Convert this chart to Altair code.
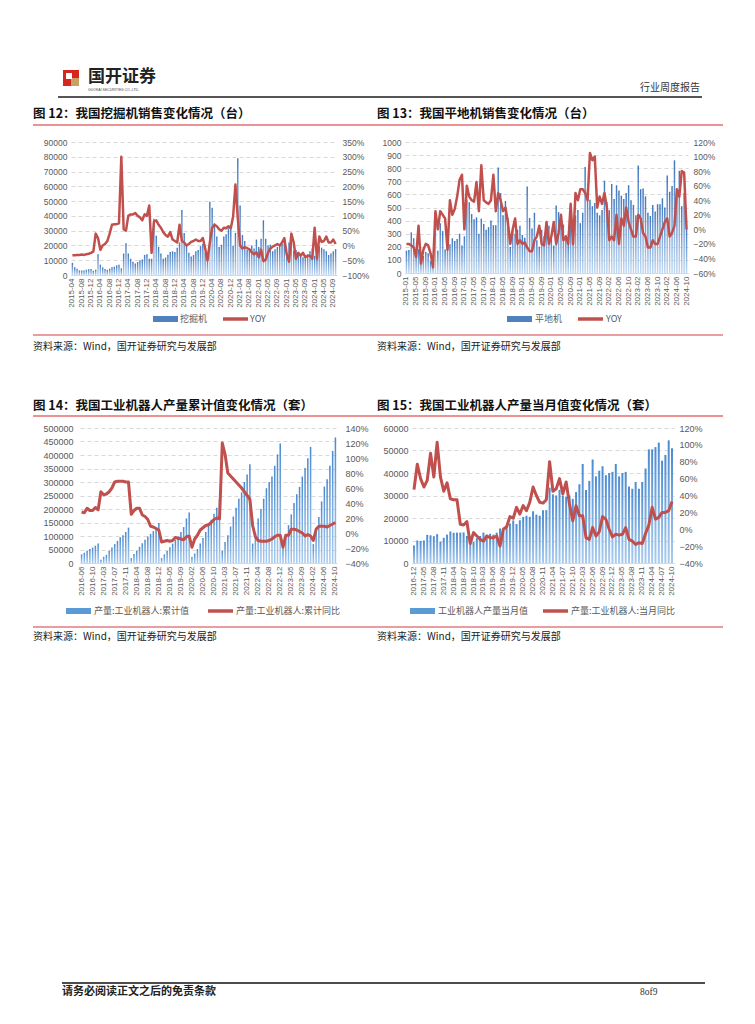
import pandas as pd
import altair as alt

# ---------------- categories / tick labels ----------------
def month_list(start, end, drop=(), skip=()):
    out = []
    for p in pd.period_range(start, end, freq="M"):
        s = p.strftime("%Y-%m")
        if s in drop or p.month in skip:
            continue
        out.append(s)
    return out

cats12 = month_list("2015-04", "2024-10", drop={"2021-11"})
cats13 = month_list("2015-01", "2024-10", drop={"2021-11"})
cats14 = month_list("2016-06", "2024-10", skip={1})
cats15 = month_list("2016-12", "2024-10", skip={1, 2})

ticks12 = ["2015-04", "2015-08", "2015-12", "2016-04", "2016-08", "2016-12", "2017-04", "2017-08",
           "2017-12", "2018-04", "2018-08", "2018-12", "2019-04", "2019-08", "2019-12", "2020-04",
           "2020-08", "2020-12", "2021-04", "2021-08", "2022-01", "2022-05", "2022-09", "2023-01",
           "2023-05", "2023-09", "2024-01", "2024-05", "2024-09"]
ticks13 = ["2015-01", "2015-05", "2015-09", "2016-01", "2016-05", "2016-09", "2017-01", "2017-05",
           "2017-09", "2018-01", "2018-05", "2018-09", "2019-01", "2019-05", "2019-09", "2020-01",
           "2020-05", "2020-09", "2021-01", "2021-05", "2021-09", "2022-02", "2022-06", "2022-10",
           "2023-02", "2023-06", "2023-10", "2024-02", "2024-06", "2024-10"]
ticks14 = ["2016-06", "2016-10", "2017-03", "2017-07", "2017-11", "2018-04", "2018-08", "2018-12",
           "2019-05", "2019-09", "2020-02", "2020-06", "2020-10", "2021-03", "2021-07", "2021-11",
           "2022-04", "2022-08", "2022-12", "2023-05", "2023-09", "2024-02", "2024-06", "2024-10"]
ticks15 = ["2016-12", "2017-05", "2017-08", "2017-11", "2018-04", "2018-07", "2018-10", "2019-03",
           "2019-06", "2019-09", "2019-12", "2020-05", "2020-08", "2020-11", "2021-04", "2021-07",
           "2021-10", "2022-03", "2022-06", "2022-09", "2022-12", "2023-05", "2023-08", "2023-11",
           "2024-04", "2024-07", "2024-10"]

# ---------------- 图12 挖掘机 (台) ----------------
exc_2015 = [8200, 5300, 4300, 3100, 3000, 3000, 3600, 3900, 4000]
exc_2016 = [2900, 3600, 14000, 7000, 5200, 4000, 3500, 4300, 5200, 5600, 6500, 7000]
exc_2017 = [4500, 14500, 21500, 14500, 11000, 9000, 7700, 8800, 10000, 10500, 13600, 14000]
exc_2018 = [11000, 11000, 38000, 26500, 19000, 14500, 11000, 11800, 13700, 15600, 16000, 15500]
exc_2019 = [18500, 22000, 44000, 28500, 21000, 15000, 12500, 13500, 16000, 17000, 19500, 21000]
exc_2020 = [15000, 10500, 49500, 45500, 35000, 26000, 19000, 20500, 26000, 27500, 31500, 31000]
exc_2021 = [19600, 28500, 79000, 47000, 27000, 23000, 17000, 17000, 20000, 18000, 24000]
exc_2022 = [19000, 24500, 37000, 24500, 20000, 20500, 16000, 17500, 19000, 20000, 21000, 22500]
exc_2023 = [15000, 22000, 23500, 16500, 17000, 15000, 12500, 12000, 13500, 14000, 16000, 18000]
exc_2024 = [13000, 11000, 19500, 18500, 17500, 16000, 13500, 14500, 16000, 17500]
exc_units = exc_2015 + exc_2016 + exc_2017 + exc_2018 + exc_2019 + exc_2020 + exc_2021 + exc_2022 + exc_2023 + exc_2024

exy_2015 = [-0.33, -0.33, -0.32, -0.32, -0.31, -0.32, -0.30, -0.28, -0.25]
exy_2016 = [-0.20, 0.40, 0.25, -0.15, 0.00, 0.05, 0.15, 0.40, 0.70, 0.72, 0.72, 0.75]
exy_2017 = [3.00, 0.55, 0.50, 1.00, 1.05, 1.05, 1.10, 1.00, 0.95, 0.85, 1.05, 1.00]
exy_2018 = [1.35, -0.25, 0.80, 0.85, 0.70, 0.60, 0.45, 0.35, 0.30, 0.45, 0.20, 0.15]
exy_2019 = [0.10, 0.70, 0.15, 0.10, 0.00, 0.05, 0.12, 0.15, 0.20, 0.15, 0.15, 0.25]
exy_2020 = [-0.10, -0.50, 0.10, 0.60, 0.70, 0.65, 0.55, 0.50, 0.60, 0.58, 0.65, 0.58]
exy_2021 = [0.98, 2.06, 0.93, 0.00, -0.10, -0.06, -0.09, -0.13, -0.23, -0.30, -0.23]
exy_2022 = [-0.40, -0.14, -0.53, -0.48, -0.24, -0.10, -0.04, 0.00, 0.05, 0.00, 0.10, 0.25]
exy_2023 = [-0.30, -0.55, 0.40, 0.10, -0.45, -0.25, -0.35, -0.25, -0.40, -0.35, -0.35, -0.45]
exy_2024 = [0.60, -0.45, 0.30, 0.12, 0.15, 0.30, 0.10, 0.10, 0.20, 0.05]
exc_yoy = exy_2015 + exy_2016 + exy_2017 + exy_2018 + exy_2019 + exy_2020 + exy_2021 + exy_2022 + exy_2023 + exy_2024

# ---------------- 图13 平地机 (台) ----------------
gr_2015 = [170, 175, 310, 265, 140, 180, 90, 130, 160, 150, 90, 60]
gr_2016 = [460, 170, 380, 320, 180, 240, 220, 265, 245, 260, 300, 210]
gr_2017 = [280, 560, 540, 450, 410, 425, 300, 415, 375, 330, 350, 400]
gr_2018 = [365, 365, 805, 610, 440, 550, 420, 200, 340, 300, 330, 360]
gr_2019 = [290, 270, 660, 420, 340, 460, 250, 200, 330, 280, 390, 360]
gr_2020 = [270, 210, 515, 465, 420, 370, 290, 230, 380, 310, 440, 480]
gr_2021 = [380, 460, 810, 640, 560, 510, 535, 460, 440, 480, 705]
gr_2022 = [540, 480, 680, 565, 670, 630, 590, 565, 610, 670, 555, 520]
gr_2023 = [440, 820, 640, 645, 585, 460, 435, 520, 470, 525, 525, 570]
gr_2024 = [500, 745, 620, 665, 860, 610, 780, 510, 610, 340]
grader_units = gr_2015 + gr_2016 + gr_2017 + gr_2018 + gr_2019 + gr_2020 + gr_2021 + gr_2022 + gr_2023 + gr_2024

gy_2015 = [-20, -20, -22, -25, -38, 5, -47, -28, -20, -22, -33, -52]
gy_2016 = [25, 0, 25, 20, 15, -28, 40, 20, 28, 45, 68, 75]
gy_2017 = [0, 60, 45, 40, 38, 65, 25, 88, 40, 37, 35, 40]
gy_2018 = [75, 25, 50, 40, 25, 30, 10, -20, 0, 15, -20, -15]
gy_2019 = [-20, -18, -25, -30, -30, -15, -10, 5, -20, -22, 10, -20]
gy_2020 = [-10, 10, -20, -5, 20, -15, -10, -20, 35, -20, 50, 40]
gy_2021 = [55, 55, 50, 40, 105, 95, 100, 30, 45, 35, 50]
gy_2022 = [30, -15, -10, -15, 20, -20, 15, 5, 30, 10, 0, -10]
gy_2023 = [-10, 20, 15, -5, -10, -25, -25, -15, -20, -20, -10, 0]
gy_2024 = [10, 15, -10, -5, 5, 55, 45, 80, 78, 0]
grader_yoy_pct = gy_2015 + gy_2016 + gy_2017 + gy_2018 + gy_2019 + gy_2020 + gy_2021 + gy_2022 + gy_2023 + gy_2024

# ---------------- 图14 工业机器人 累计值 (千套) ----------------
rc_2016 = [32, 38, 45, 52, 57, 64, 72]
rc_2017 = [12, 23, 30, 45, 57, 70, 82, 95, 103, 115, 131]
rc_2018 = [18, 33, 45, 60, 73, 86, 98, 108, 118, 130, 148]
rc_2019 = [18, 32, 44, 58, 72, 85, 98, 115, 133, 165, 187]
rc_2020 = [22, 35, 52, 72, 93, 115, 138, 160, 182, 205, 237]
rc_2021 = [45, 78, 103, 135, 172, 205, 238, 262, 300, 328, 366]
rc_2022 = [72, 110, 165, 200, 238, 277, 300, 320, 360, 402, 443]
rc_2023 = [65, 105, 140, 180, 222, 255, 282, 320, 352, 388, 430]
rc_2024 = [70, 120, 170, 228, 283, 310, 360, 415, 465]
robot_cum_k = rc_2016 + rc_2017 + rc_2018 + rc_2019 + rc_2020 + rc_2021 + rc_2022 + rc_2023 + rc_2024

ry_2016 = [0.28, 0.27, 0.33, 0.30, 0.30, 0.34, 0.31]
ry_2017 = [0.55, 0.51, 0.52, 0.55, 0.60, 0.68, 0.69, 0.69, 0.69, 0.68, 0.68]
ry_2018 = [0.25, 0.30, 0.33, 0.33, 0.24, 0.22, 0.18, 0.09, 0.08, 0.06, 0.04]
ry_2019 = [-0.12, -0.11, -0.10, -0.11, -0.10, -0.06, -0.07, -0.08, -0.09, -0.05, -0.04]
ry_2020 = [-0.19, -0.08, -0.03, 0.04, 0.07, 0.10, 0.11, 0.14, 0.18, 0.20, 0.19]
ry_2021 = [1.20, 1.05, 0.80, 0.76, 0.72, 0.68, 0.64, 0.60, 0.55, 0.50, 0.45]
ry_2022 = [0.10, -0.05, -0.10, -0.11, -0.11, -0.11, -0.10, -0.08, -0.05, -0.03, -0.03]
ry_2023 = [-0.19, -0.03, -0.03, 0.05, 0.05, 0.04, 0.02, 0.00, -0.04, -0.02, -0.04]
ry_2024 = [-0.10, 0.05, 0.09, 0.09, 0.09, 0.08, 0.10, 0.12, 0.14]
robot_cum_yoy = ry_2016 + ry_2017 + ry_2018 + ry_2019 + ry_2020 + ry_2021 + ry_2022 + ry_2023 + ry_2024

# ---------------- 图15 工业机器人 当月值 (千套) ----------------
rm_2016 = [7.8]
rm_2017 = [10.0, 9.8, 10.0, 12.5, 12.3, 11.9, 12.8, 9.5, 11.2, 12.6]
rm_2018 = [14.0, 13.4, 13.5, 13.5, 13.6, 12.0, 11.0, 9.5, 11.0, 12.0]
rm_2019 = [13.5, 12.6, 13.0, 12.6, 13.5, 15.3, 14.5, 16.0, 17.5, 18.9]
rm_2020 = [17.3, 19.0, 20.5, 21.0, 20.5, 23.0, 21.5, 21.0, 23.5, 23.5]
rm_2021 = [33.5, 30.5, 30.0, 32.5, 30.0, 29.5, 30.0, 28.5, 31.5, 35.0]
rm_2022 = [44.0, 32.5, 36.5, 46.0, 38.5, 41.0, 43.0, 39.0, 40.0, 40.5]
rm_2023 = [44.0, 38.5, 40.0, 40.5, 34.0, 33.0, 36.0, 33.0, 36.0, 42.0]
rm_2024 = [50.5, 50.5, 51.5, 53.5, 45.5, 48.0, 54.5, 51.0]
robot_month_k = rm_2016 + rm_2017 + rm_2018 + rm_2019 + rm_2020 + rm_2021 + rm_2022 + rm_2023 + rm_2024

rmy_2016 = [0.47]
rmy_2017 = [0.77, 0.60, 0.50, 0.58, 0.90, 0.62, 1.03, 0.62, 0.45, 0.55]
rmy_2018 = [0.36, 0.35, 0.35, 0.06, 0.05, 0.09, -0.17, -0.04, -0.08, -0.12]
rmy_2019 = [-0.14, -0.08, -0.10, -0.10, -0.08, -0.20, 0.00, 0.03, 0.15, 0.13]
rmy_2020 = [0.26, 0.18, 0.28, 0.22, 0.32, 0.50, 0.40, 0.32, 0.31, 0.35]
rmy_2021 = [0.80, 0.45, 0.48, 0.60, 0.42, 0.56, 0.30, 0.10, 0.28, 0.16]
rmy_2022 = [0.16, -0.10, -0.12, 0.02, -0.08, -0.03, 0.15, 0.12, 0.00, -0.09]
rmy_2023 = [-0.06, -0.07, -0.06, 0.02, -0.12, -0.14, -0.18, -0.16, -0.17, -0.05]
rmy_2024 = [0.05, 0.26, 0.12, 0.14, 0.20, 0.20, 0.22, 0.33]
robot_month_yoy = rmy_2016 + rmy_2017 + rmy_2018 + rmy_2019 + rmy_2020 + rmy_2021 + rmy_2022 + rmy_2023 + rmy_2024

# ---------------- styling ----------------
NUM_FONT = "Liberation Sans"
CJK = "Noto Sans CJK SC"
RED = "#c0504d"
GRAY = "#595959"


def grad(c1, c2):
    return alt.Gradient(gradient="linear",
                        stops=[alt.GradientStop(color=c1, offset=0), alt.GradientStop(color=c2, offset=1)],
                        x1=0, x2=0, y1=0, y2=1)


def panel(cats, bars, yoy, ticks, w, h, ydom, ystep, rdom, rstep, bar_fill, pad_inner, line_w, lsize,
          xrange=None, left_off=0, right_off=0, right_pad=5):
    n = min(len(cats), len(bars), len(yoy))
    df = pd.DataFrame({"m": cats[:n], "v": bars[:n], "r": yoy[:n]})
    sc = dict(paddingInner=pad_inner, paddingOuter=0.3)
    if xrange is not None:
        sc["range"] = xrange
    x = alt.X("m:O", sort=cats[:n], scale=alt.Scale(**sc),
              axis=alt.Axis(values=ticks, labelAngle=-90, labelFontSize=8, labelColor=GRAY,
                            labelFont=NUM_FONT, ticks=False, domainColor="#d9d9d9", labelPadding=3,
                            title=None, labelOverlap=False))
    lvals = list(range(ydom[0], ydom[1] + 1, ystep))
    nr = int(round((rdom[1] - rdom[0]) / rstep))
    rvals = [round(rdom[0] + i * rstep, 4) for i in range(nr + 1)]
    b = alt.Chart(df).mark_bar(color=bar_fill).encode(
        x=x,
        y=alt.Y("v:Q", scale=alt.Scale(domain=ydom, nice=False),
                axis=alt.Axis(values=lvals, format="d", title=None, grid=True, gridColor="#d9d9d9",
                              gridDash=[4, 3], domain=False, ticks=False, labelFontSize=lsize,
                              labelColor=GRAY, labelFont=NUM_FONT, labelPadding=4, offset=left_off)))
    ln = alt.Chart(df).mark_line(color=RED, strokeWidth=line_w, strokeJoin="round").encode(
        x=x,
        y=alt.Y("r:Q", scale=alt.Scale(domain=rdom, nice=False),
                axis=alt.Axis(orient="right", values=rvals, format=".0%", title=None, grid=False,
                              domain=False, ticks=False, labelFontSize=lsize, labelColor=GRAY,
                              labelFont=NUM_FONT, labelPadding=right_pad, offset=right_off)))
    return alt.layer(b, ln).resolve_scale(y="independent").properties(width=w, height=h)


dummy = pd.DataFrame({"d": [0]})

# page decorations are positioned relative to the first row's origin (page x 8, y 142)
OX, OY = 8, 142


def T(px, py, text, size=10, weight="normal", color="#222", align="left", font=CJK):
    return alt.Chart(dummy).mark_text(text=text, fontSize=size, fontWeight=weight, color=color,
                                      align=align, baseline="middle", font=font).encode(
        x=alt.value(px - OX), y=alt.value(py - OY))


def R(px1, px2, py, color, width):
    return alt.Chart(dummy).mark_rule(color=color, strokeWidth=width).encode(
        x=alt.value(px1 - OX), x2=alt.value(px2 - OX), y=alt.value(py - OY))


def B(px1, px2, py1, py2, color):
    return alt.Chart(dummy).mark_rect(color=color).encode(
        x=alt.value(px1 - OX), x2=alt.value(px2 - OX), y=alt.value(py1 - OY), y2=alt.value(py2 - OY))


def legend(py, items, color):
    out = []
    for (bx, tx1, rx, tx2, t1, t2) in items:
        out.append(B(bx, bx + 25, py - 3, py + 3, color))
        out.append(T(tx1, py, t1, size=9, color=GRAY))
        out.append(R(rx, rx + 25, py, RED, 3.5))
        out.append(T(tx2, py, t2, size=9, color=GRAY))
    return out


SRC = "资料来源：Wind，国开证券研究与发展部"
TITLE_RED = "#d9262b"
SRC_RED = "#e27d80"

decor = [
    B(8, 9, 8, 9, "#ffffff"),  # page top-left anchor
    # header
    B(63, 79, 70, 86, "#d7261e"),
    B(71, 79, 78, 86, "#c9a063"),
    B(66, 72, 73, 79, "#ffffff"),
    T(88, 77, "国开证券", size=17, weight="bold", color="#222"),
    T(88, 90, "GUOKAI SECURITIES CO.,LTD.", size=3.5, color="#444", font=NUM_FONT),
    T(700, 88, "行业周度报告", size=10, color="#333", align="right"),
    R(58, 702, 97, "#555555", 2),
    # row 1 titles
    T(33, 114, "图 12：我国挖掘机销售变化情况（台）", size=12.5, weight="bold", color="#111"),
    T(377, 114, "图 13：我国平地机销售变化情况（台）", size=12.5, weight="bold", color="#111"),
    R(33, 723, 125, TITLE_RED, 1.2),
    # row 1 legends and source
    *legend(319, [(153, 180, 223, 250, "挖掘机", "YOY"),
                  (507, 535, 578, 606, "平地机", "YOY")], "#4f81bd"),
    R(33, 723, 335, SRC_RED, 1.5),
    T(33, 347, SRC, size=10, color="#222"),
    T(377, 347, SRC, size=10, color="#222"),
    # row 2 titles
    T(33, 406, "图 14：我国工业机器人产量累计值变化情况（套）", size=12.5, weight="bold", color="#111"),
    T(377, 406, "图 15：我国工业机器人产量当月值变化情况（套）", size=12.5, weight="bold", color="#111"),
    R(33, 723, 416, TITLE_RED, 1.2),
    # row 2 legends and source
    *legend(611, [(66, 94, 208, 236, "产量:工业机器人:累计值", "产量:工业机器人:累计同比"),
                  (410, 438, 543, 571, "工业机器人产量当月值", "产量:工业机器人:当月同比")], "#5b9bd5"),
    R(33, 723, 627, SRC_RED, 1.5),
    T(33, 637, SRC, size=10, color="#222"),
    T(377, 637, SRC, size=10, color="#222"),
    # footer
    R(62, 705, 983, "#111111", 1.5),
    T(62, 992, "请务必阅读正文之后的免责条款", size=11, weight="bold", color="#222"),
    T(640, 992, "8of9", size=9.5, color="#333", font="Liberation Serif"),
]

s1 = alt.layer(*decor).properties(width=63, height=1)


def spacer(w):
    return alt.Chart(dummy).mark_rect(color="#ffffff").encode(
        x=alt.value(0), x2=alt.value(1), y=alt.value(0), y2=alt.value(1)).properties(width=w, height=1)


# grid columns (shared by both rows): 63 | 266 | 68 | 283  -> plots at page x 71 and 405
p12 = panel(cats12, exc_units, exc_yoy, ticks12, 266, 133, [0, 90000], 10000, [-1.0, 3.5], 0.5,
            grad("#3f76bd", "#c0d8f2"), 0.4, 2.5, 8.5)
p13 = panel(cats13, grader_units, [v / 100 for v in grader_yoy_pct], ticks13, 283, 131, [0, 1000], 100,
            [-0.6, 1.2], 0.2, grad("#3f76bd", "#c0d8f2"), 0.4, 2.5, 8.5)
# row 2 plots sit at page x 80..337 and 412..674 inside the same columns
p14 = panel(cats14, [v * 1000 for v in robot_cum_k], robot_cum_yoy, ticks14, 266, 135, [0, 500000], 50000,
            [-0.4, 1.4], 0.2, grad("#4a8ad0", "#a9cbee"), 0.45, 3, 9,
            xrange=[9, 266], left_off=-6, right_pad=8)
p15 = panel(cats15, [v * 1000 for v in robot_month_k], robot_month_yoy, ticks15, 283, 135, [0, 60000], 10000,
            [-0.4, 1.2], 0.2, grad("#4a8ad0", "#a9cbee"), 0.4, 3, 9,
            xrange=[7, 269], left_off=-7, right_off=-14)

chart = alt.concat(
    s1, p12, spacer(68), p13,
    spacer(63), p14, spacer(68), p15,
    columns=4, spacing=alt.RowColnumber(row=153, column=0), bounds="flush", align="each",
).properties(padding=0, background="white").configure_view(stroke=None)

chart.save("out.html", embed_options={"renderer": "svg", "actions": False})
